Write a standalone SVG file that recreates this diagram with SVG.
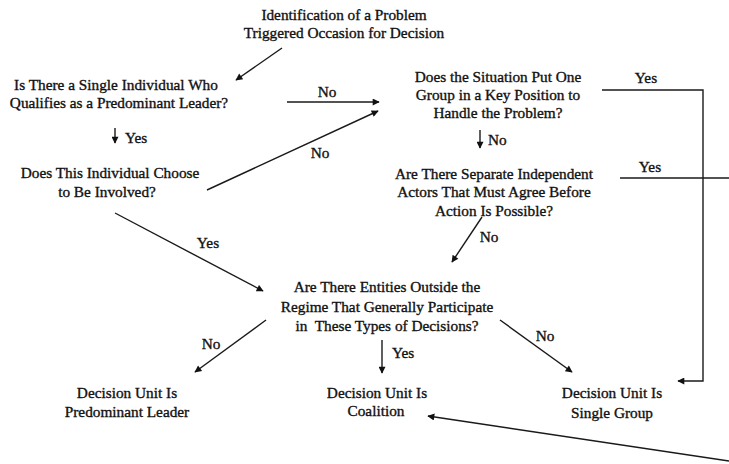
<svg xmlns="http://www.w3.org/2000/svg" width="729" height="464" viewBox="0 0 729 464">
<style>
text{font-family:"Liberation Serif","Times New Roman",serif;font-size:15.3px;fill:#111;stroke:#111;stroke-width:0.35;text-anchor:middle}
.l{text-anchor:start}
.c{stroke:#1a1a1a;stroke-width:1.4;fill:none}
</style>
<defs>
<marker id="ah" viewBox="0 0 10 10" refX="9" refY="5" markerWidth="9" markerHeight="7" markerUnits="userSpaceOnUse" orient="auto">
<path d="M0,0 L10,5 L0,10 z" fill="#111"/>
</marker>
</defs>
<rect width="729" height="464" fill="#fff"/>
<g id="connectors">
<line class="c" x1="282" y1="48" x2="236" y2="80" marker-end="url(#ah)"/>
<line class="c" x1="287" y1="102" x2="379" y2="102" marker-end="url(#ah)"/>
<line class="c" x1="207" y1="190" x2="378" y2="111" marker-end="url(#ah)"/>
<line class="c" x1="115" y1="128" x2="115" y2="143" marker-end="url(#ah)"/>
<line class="c" x1="480" y1="130" x2="480" y2="148" marker-end="url(#ah)"/>
<line class="c" x1="115" y1="213" x2="263" y2="291" marker-end="url(#ah)"/>
<line class="c" x1="482" y1="217" x2="452" y2="262" marker-end="url(#ah)"/>
<polyline class="c" points="602,90 703,90 703,381 678,381" marker-end="url(#ah)"/>
<line class="c" x1="620" y1="178" x2="729" y2="178"/>
<line class="c" x1="729" y1="461" x2="428" y2="416" marker-end="url(#ah)"/>
<line class="c" x1="266" y1="320" x2="195" y2="372" marker-end="url(#ah)"/>
<line class="c" x1="382" y1="340" x2="382" y2="373" marker-end="url(#ah)"/>
<line class="c" x1="500" y1="320" x2="572" y2="372" marker-end="url(#ah)"/>
<text x="327" y="97">No</text>
<text x="320" y="158">No</text>
<text class="l" x="125" y="143">Yes</text>
<text class="l" x="488" y="145">No</text>
<text x="646" y="83">Yes</text>
<text x="650" y="172">Yes</text>
<text x="208" y="248">Yes</text>
<text x="489" y="242">No</text>
<text x="211" y="349">No</text>
<text class="l" x="392" y="358">Yes</text>
<text x="545" y="341">No</text>
</g>
<g id="n_start">
<text x="344" y="20">Identification of a Problem</text>
<text x="344" y="38">Triggered Occasion for Decision</text>
</g>
<g id="n_leader">
<text x="116" y="90">Is There a Single Individual Who</text>
<text x="119" y="108">Qualifies as a Predominant Leader?</text>
</g>
<g id="n_involved">
<text x="110" y="178">Does This Individual Choose</text>
<text x="107" y="197">to Be Involved?</text>
</g>
<g id="n_group">
<text x="498" y="82">Does the Situation Put One</text>
<text x="498" y="100">Group in a Key Position to</text>
<text x="498" y="118">Handle the Problem?</text>
</g>
<g id="n_separate">
<text x="494" y="179">Are There Separate Independent</text>
<text x="494" y="197">Actors That Must Agree Before</text>
<text x="494" y="216">Action Is Possible?</text>
</g>
<g id="n_entities">
<text x="387" y="292">Are There Entities Outside the</text>
<text x="387" y="312">Regime That Generally Participate</text>
<text x="387" y="331" xml:space="preserve">in  These Types of Decisions?</text>
</g>
<g id="n_leader_unit">
<text x="127" y="398">Decision Unit Is</text>
<text x="127" y="417">Predominant Leader</text>
</g>
<g id="n_coalition">
<text x="377" y="398">Decision Unit Is</text>
<text x="376" y="416">Coalition</text>
</g>
<g id="n_single">
<text x="612" y="398">Decision Unit Is</text>
<text x="612" y="418">Single Group</text>
</g>
</svg>
